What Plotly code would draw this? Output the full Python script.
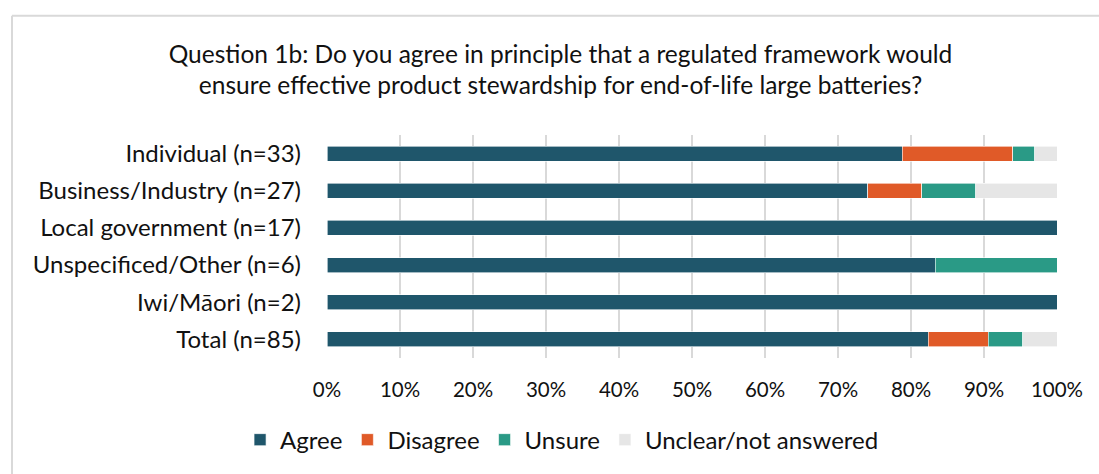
import plotly.graph_objects as go

# Response counts per respondent group (bars shown as share of each group)
groups = [
    "Individual (n=33)",
    "Business/Industry (n=27)",
    "Local government (n=17)",
    "Unspecificed/Other (n=6)",
    "Iwi/Māori (n=2)",
    "Total (n=85)",
]
group_sizes = [33, 27, 17, 6, 2, 85]
agree = [26, 20, 17, 5, 2, 70]
disagree = [5, 2, 0, 0, 0, 7]
unsure = [1, 2, 0, 1, 0, 4]
unclear = [1, 3, 0, 0, 0, 4]

series = [
    ("Agree", agree, "#1F566B"),
    ("Disagree", disagree, "#E05A28"),
    ("Unsure", unsure, "#2A9A86"),
    ("Unclear/not answered", unclear, "#E6E6E6"),
]

tick_vals = [i / 10 for i in range(11)]
tick_text = [f"{i * 10}%" for i in range(11)]

FONT = "Lato"
INK = "#111111"

fig = go.Figure()
for name, counts, color in series:
    shares = [c / n for c, n in zip(counts, group_sizes)]
    fig.add_trace(go.Bar(
        name=name,
        y=groups,
        x=shares,
        orientation="h",
        marker=dict(color=color, line=dict(color="white", width=0.6)),
        hovertemplate="%{y}<br>" + name + ": %{x:.1%}<extra></extra>",
    ))

fig.update_layout(
    barmode="stack",
    bargap=0.6,
    width=1099,
    height=474,
    margin=dict(l=327, r=42, t=135, b=116),
    paper_bgcolor="white",
    plot_bgcolor="white",
    font=dict(family=FONT, size=24, color=INK),
    title=dict(
        text="Question 1b: Do you agree in principle that a regulated framework would<br>"
             "ensure effective product stewardship for end-of-life large batteries?",
        x=0.51, xanchor="center",
        y=0.868, yanchor="top",
        font=dict(family=FONT, size=24.5, color=INK),
    ),
    xaxis=dict(
        range=[0, 1],
        tickvals=tick_vals,
        ticktext=tick_text,
        showgrid=True,
        gridcolor="#D9D9D9",
        gridwidth=1.5,
        zeroline=False,
        showline=False,
        ticks="",
        ticklabelstandoff=17,
        tickfont=dict(family=FONT, size=20.5, color=INK),
        fixedrange=True,
    ),
    yaxis=dict(
        categoryorder="array",
        categoryarray=groups,
        autorange="reversed",
        showgrid=False,
        zeroline=False,
        showline=False,
        ticks="",
        ticklabelstandoff=25,
        tickfont=dict(family=FONT, size=24, color=INK),
        fixedrange=True,
    ),
    legend=dict(
        orientation="h",
        x=0.322, xanchor="center",
        y=-0.267, yanchor="top",
        font=dict(family=FONT, size=24, color=INK),
        itemwidth=30,
        traceorder="normal",
    ),
    showlegend=True,
    shapes=[
        # light frame around the chart area (top and left edges)
        dict(type="line", xref="paper", yref="paper",
             x0=-0.4315, x1=1.1, y0=1.535, y1=1.535,
             line=dict(color="#D9D9D9", width=2)),
        dict(type="line", xref="paper", yref="paper",
             x0=-0.4315, x1=-0.4315, y0=1.535, y1=-0.6,
             line=dict(color="#D9D9D9", width=2)),
    ],
)

fig.write_html("out.html")
